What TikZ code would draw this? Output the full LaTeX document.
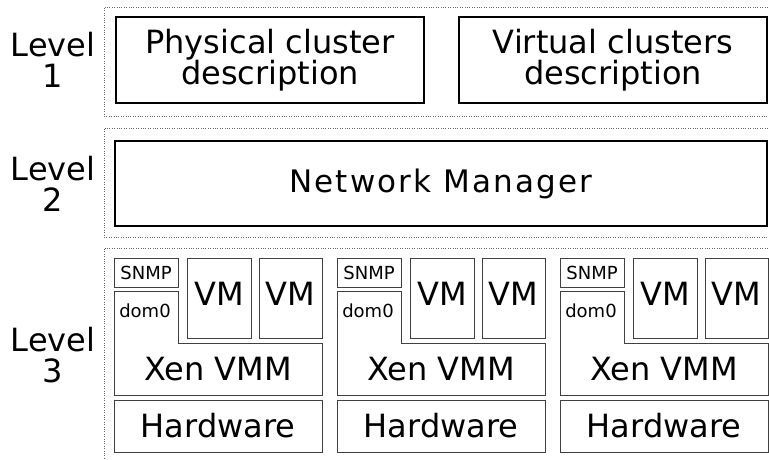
\documentclass[tikz,border=0pt]{standalone}
\usepackage{fontspec}
\setmainfont{DejaVu Sans}
\newfontfamily\spacedfont[LetterSpace=7]{DejaVu Sans}

\begin{document}
\begin{tikzpicture}[x=1pt,y=-1pt,
	levelframe/.style={draw=black!60, line width=0.8pt, dash pattern=on 0.8pt off 1.6pt},
	topbox/.style={draw=black, line width=1.3pt, inner sep=0pt, align=center, font=\fontsize{32}{31}\selectfont},
	hostbox/.style={draw=black!75, line width=0.9pt, inner sep=0pt, align=center, font=\fontsize{32}{32}\selectfont},
	smallbox/.style={hostbox, font=\fontsize{18}{18}\selectfont},
	hostline/.style={draw=black!75, line width=0.9pt},
	leveltext/.style={align=center, inner sep=0pt, font=\fontsize{32}{31}\selectfont}]
				\useasboundingbox (0,0) rectangle (769,459);
				\clip (0,0) rectangle (769,459);
				
				% dotted level frames, open to the right and below
				\draw[levelframe] (775,7) -- (104,7) -- (104,116) -- (775,116);
				\draw[levelframe] (775,128) -- (104,128) -- (104,237) -- (775,237);
				\draw[levelframe] (775,248) -- (104,248) -- (104,465);
				
				\node[leveltext] (lvl1) at (53,59.5) {Level\\1};
				\node[leveltext] (lvl2) at (53,184) {Level\\2};
				\node[leveltext] (lvl3) at (53,355) {Level\\3};
				
				% level 1
				\node[topbox, minimum width=308, minimum height=86] (phys) at (270,60) {Physical cluster\\description};
				\node[topbox, minimum width=308, minimum height=86] (virt) at (613,60) {Virtual clusters\\description};
				
				% level 2
				\node[topbox, minimum width=652, minimum height=85, font=\spacedfont\fontsize{31}{31}\selectfont] (netman) at (441,183.5) {Network Manager};
				
				% level 3: three hosts
				\foreach \hx [count=\i] in {114,337,560} {
					\node[smallbox, minimum width=64, minimum height=29] (snmp\i) at (\hx+32,272.5) {SNMP};
					\node[hostbox, minimum width=64, minimum height=80, text depth=8pt] (vma\i) at (\hx+105,298) {VM};
					\node[hostbox, minimum width=63, minimum height=80, text depth=8pt] (vmb\i) at (\hx+176.5,298) {VM};
					\draw[hostline] (\hx,291) -- ++(64,0) -- ++(0,52) -- ++(144,0) -- ++(0,52) -- ++(-208,0) -- cycle;
					\node[inner sep=0pt, font=\fontsize{18}{18}\selectfont] (dom\i) at (\hx+31,311) {dom0};
					\node[inner sep=0pt, font=\fontsize{32}{32}\selectfont] (xen\i) at (\hx+104,369) {Xen VMM};
					\node[hostbox, minimum width=208, minimum height=52] (hw\i) at (\hx+104,426) {Hardware};
				}
\end{tikzpicture}
\end{document}
